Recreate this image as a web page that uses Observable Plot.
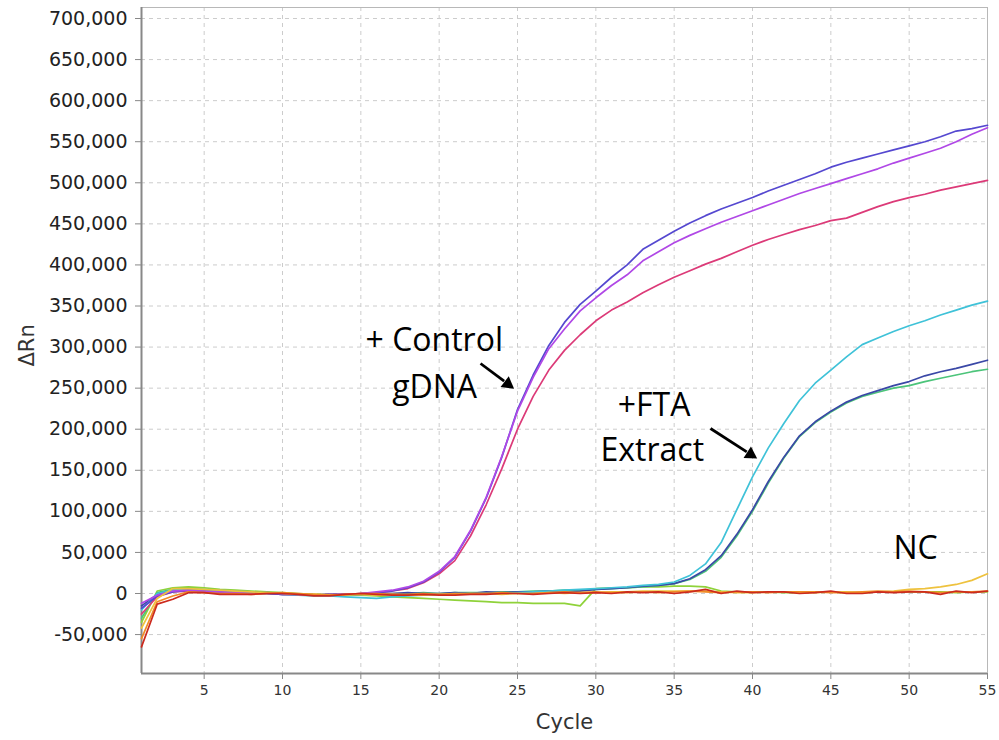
<!DOCTYPE html>
<html>
<head>
<meta charset="utf-8">
<script src="https://cdn.jsdelivr.net/npm/d3@7"></script>
<script src="https://cdn.jsdelivr.net/npm/@observablehq/plot@0.6"></script>
<style>
  html, body { margin: 0; padding: 0; background: #fff; }
  #chart svg { display: block; }
</style>
</head>
<body>
<div id="chart"></div>
<script>
const cycles = [1,2,3,4,5,6,7,8,9,10,11,12,13,14,15,16,17,18,19,20,21,22,23,24,25,26,27,28,29,30,31,32,33,34,35,36,37,38,39,40,41,42,43,44,45,46,47,48,49,50,51,52,53,54,55];

const ncLime = [-35000,3000,7000,8000,7000,5000,4000,3000,2000,1000,0,-1000,-1000,-2000,-2000,-3000,-4000,-5000,-6000,-7000,-8000,-9000,-10000,-11000,-11000,-12000,-12000,-12000,-15000,6000,7000,7000,8000,8000,9000,9000,8000,3000,2000,2000,2000,1000,1000,2000,2000,1000,1000,2000,2000,2000,2000,2000,1000,2000,2000];
const ftaGreen = [-30000,1000,5000,6000,5000,4000,3000,2000,1000,0,-1000,-2000,-2000,-2000,-1000,-1000,0,0,1000,0,1000,1000,1000,2000,2000,3000,3000,4000,4000,5000,6000,7000,8000,10000,12000,17000,27000,44000,70000,100000,134000,165000,191000,208000,221000,232000,240000,245000,250000,253000,258000,262000,266000,270000,273000];
const ftaNavy = [-15000,-1000,3000,4000,3000,2000,1000,0,0,-1000,-1000,-2000,-2000,-1000,-1000,0,0,1000,0,0,1000,0,2000,1000,2000,2000,3000,2000,3000,5000,6000,7000,9000,10000,12000,18000,29000,46000,72000,102000,136000,166000,192000,209000,222000,233000,241000,247000,253000,258000,265000,270000,274000,279000,284000];
const ftaCyan = [-20000,0,4000,5000,4000,3000,2000,1000,0,-1000,-2000,-3000,-3000,-4000,-5000,-6000,-4000,-3000,-2000,-1000,0,0,0,0,1000,2000,3000,4000,5000,6000,7000,8000,10000,11000,14000,22000,36000,62000,102000,142000,177000,207000,235000,256000,272000,288000,303000,311000,319000,326000,332000,339000,345000,351000,356000];
const ctrlCrimson = [-25000,-4000,2000,3000,2000,1000,0,0,0,-1000,-1000,-2000,-1000,-1000,0,1000,3000,6000,13000,24000,40000,70000,108000,152000,200000,240000,272000,296000,315000,332000,345000,355000,366000,376000,385000,393000,401000,408000,416000,424000,431000,437000,443000,448000,454000,457000,464000,471000,477000,482000,486000,491000,495000,499000,503000];
const ctrlBlue = [-18000,-3000,2000,4000,3000,2000,1000,0,0,-1000,-1000,-2000,-1000,-1000,0,1000,3000,7000,14000,26000,44000,76000,116000,166000,224000,266000,302000,330000,352000,368000,385000,400000,419000,430000,441000,451000,460000,468000,475000,482000,490000,497000,504000,511000,519000,525000,530000,535000,540000,545000,550000,556000,563000,566000,570000];
const ctrlViolet = [-12000,-2000,3000,4000,3000,2000,1000,0,1000,0,-1000,-2000,-2000,-1000,0,2000,4000,8000,15000,27000,45000,77000,117000,167000,222000,263000,298000,322000,344000,360000,375000,388000,405000,416000,427000,436000,444000,452000,459000,466000,473000,480000,487000,493000,499000,505000,511000,517000,524000,530000,536000,542000,550000,559000,567000];
const ncYellow = [-42000,-6000,6000,6000,5000,4000,3000,2000,1000,0,-1000,-1000,-2000,-2000,-1000,-2000,-1000,-2000,-2000,-1000,-1000,0,0,-1000,0,0,1000,0,1000,1000,2000,2000,3000,3000,3000,3000,3000,2000,1000,1000,2000,2000,1000,1000,2000,2000,1000,2000,3000,5000,6000,8000,11000,16000,24000];
const ncOrange = [-55000,-10000,-3000,2000,1000,0,0,-1000,0,1000,0,-1000,-2000,-1000,0,0,-1000,-1000,0,-1000,0,0,0,1000,0,0,1000,2000,1000,2000,1000,1000,2000,1000,2000,3000,2000,1000,2000,2000,1000,2000,2000,2000,1000,1000,2000,3000,2000,3000,2000,1000,2000,2000,3000];
const ncRed = [-65000,-13000,-7000,1000,1000,-1000,-1000,-1000,0,0,-1000,-3000,-3000,-1000,0,-1000,-2000,-2000,-1000,-2000,-2000,-1000,-1000,0,0,-1000,0,1000,0,1000,0,2000,1000,2000,0,2000,5000,0,3000,1000,2000,2000,0,1000,3000,0,0,2000,1000,2000,2000,-1000,3000,1000,3000];

const seriesNames = ["ncLime","ftaGreen","ftaNavy","ftaCyan","ctrlCrimson","ctrlBlue","ctrlViolet","ncYellow","ncOrange","ncRed"];
const seriesValues = [ncLime, ftaGreen, ftaNavy, ftaCyan, ctrlCrimson, ctrlBlue, ctrlViolet, ncYellow, ncOrange, ncRed];
const seriesColors = ["#8fd23a","#4cc47a","#3a48a6","#3fc2d8","#dc3a78","#5548d0","#b048e6","#eec23e","#f08a26","#cc2a1e"];

const xTicks = [5,10,15,20,25,30,35,40,45,50,55];
const yTicks = [-50000,0,50000,100000,150000,200000,250000,300000,350000,400000,450000,500000,550000,600000,650000,700000];
const xDomain = [1, 55];
const yDomain = [-97400, 713400];

const annotations = [
  {text: "+ Control", cycle: 15.3, value: 307500},
  {text: "gDNA", cycle: 17.0, value: 250300},
  {text: "+FTA", cycle: 31.4, value: 228400},
  {text: "Extract", cycle: 30.3, value: 173600},
  {text: "NC", cycle: 49.0, value: 54300}
];
const arrows = [
  {c1: 22.64, v1: 280000, c2: 24.68, v2: 250800},
  {c1: 37.32, v1: 200900, c2: 40.19, v2: 165600}
];

const W = 999, H = 740, mL = 141, mR = 12, mT = 7, mB = 67;

// pixel mapping (same as the chart's scales) to orient the filled arrowheads
const px = d3.scaleLinear(xDomain, [mL, W - mR]);
const py = d3.scaleLinear(yDomain, [H - mB, mT]);
const headSize = 13;
const heads = arrows.map(a => {
  const x1 = px(a.c1), y1 = py(a.v1), x2 = px(a.c2), y2 = py(a.v2);
  const len = Math.hypot(x2 - x1, y2 - y1);
  const ux = (x2 - x1) / len, uy = (y2 - y1) / len;
  const angle = Math.atan2(uy, ux) * 180 / Math.PI + 90;
  const cx = x2 - ux * headSize * 0.45, cy = y2 - uy * headSize * 0.45;
  const bx = x2 - ux * headSize * 0.8, by = y2 - uy * headSize * 0.8;
  return {cycle: px.invert(cx), value: py.invert(cy), angle,
          c1: a.c1, v1: a.v1, bc: px.invert(bx), bv: py.invert(by)};
});

const data = seriesNames.flatMap((name, i) =>
  cycles.map((c, j) => ({series: name, cycle: c, value: seriesValues[i][j]}))
);

const comma = d3.format(",");
const fmt = d => comma(d).replace("\u2212", "-");

const chart = Plot.plot({
  width: W,
  height: H,
  marginLeft: mL,
  marginRight: mR,
  marginTop: mT,
  marginBottom: mB,
  style: {fontFamily: "DejaVu Sans", fontSize: "17px", color: "#222", background: "#fff"},
  x: {domain: xDomain, label: null},
  y: {domain: yDomain, label: null},
  color: {domain: seriesNames, range: seriesColors},
  marks: [
    Plot.gridX(xTicks, {stroke: "#cccccc", strokeOpacity: 1, strokeDasharray: "4,4"}),
    Plot.gridY(yTicks, {stroke: "#cccccc", strokeOpacity: 1, strokeDasharray: "4,4"}),
    Plot.frame({stroke: "#b8b8b8"}),
    Plot.ruleX([xDomain[0]], {stroke: "#888", strokeWidth: 2}),
    Plot.ruleY([yDomain[0]], {stroke: "#888", strokeWidth: 2}),
    Plot.axisY(yTicks, {tickFormat: fmt, tickSize: 6, tickPadding: 8, stroke: "#888", fill: "#222", fontSize: 19}),
    Plot.axisX(xTicks, {tickSize: 6, tickPadding: 6, stroke: "#888", fill: "#333", fontSize: 14}),
    Plot.line(data, {x: "cycle", y: "value", z: "series", stroke: "series", strokeWidth: 1.7}),
    Plot.text(annotations, {x: "cycle", y: "value", text: "text", textAnchor: "start", fontFamily: "Open Sans", fontSize: 32, fill: "#000"}),
    Plot.link(heads, {x1: "c1", y1: "v1", x2: "bc", y2: "bv", stroke: "#000", strokeWidth: 2.8}),
    Plot.dot(heads, {x: "cycle", y: "value", symbol: "triangle2", r: 6.5, fill: "#000", stroke: "none", rotate: "angle"}),
    Plot.text(["Cycle"], {frameAnchor: "bottom", dy: 49, lineAnchor: "middle", fontSize: 21, fill: "#333"}),
    Plot.text(["ΔRn"], {frameAnchor: "left", dx: -114, dy: 26, rotate: -90, lineAnchor: "middle", fontSize: 21, fill: "#333"})
  ]
});
document.getElementById("chart").appendChild(chart);
</script>
</body>
</html>
